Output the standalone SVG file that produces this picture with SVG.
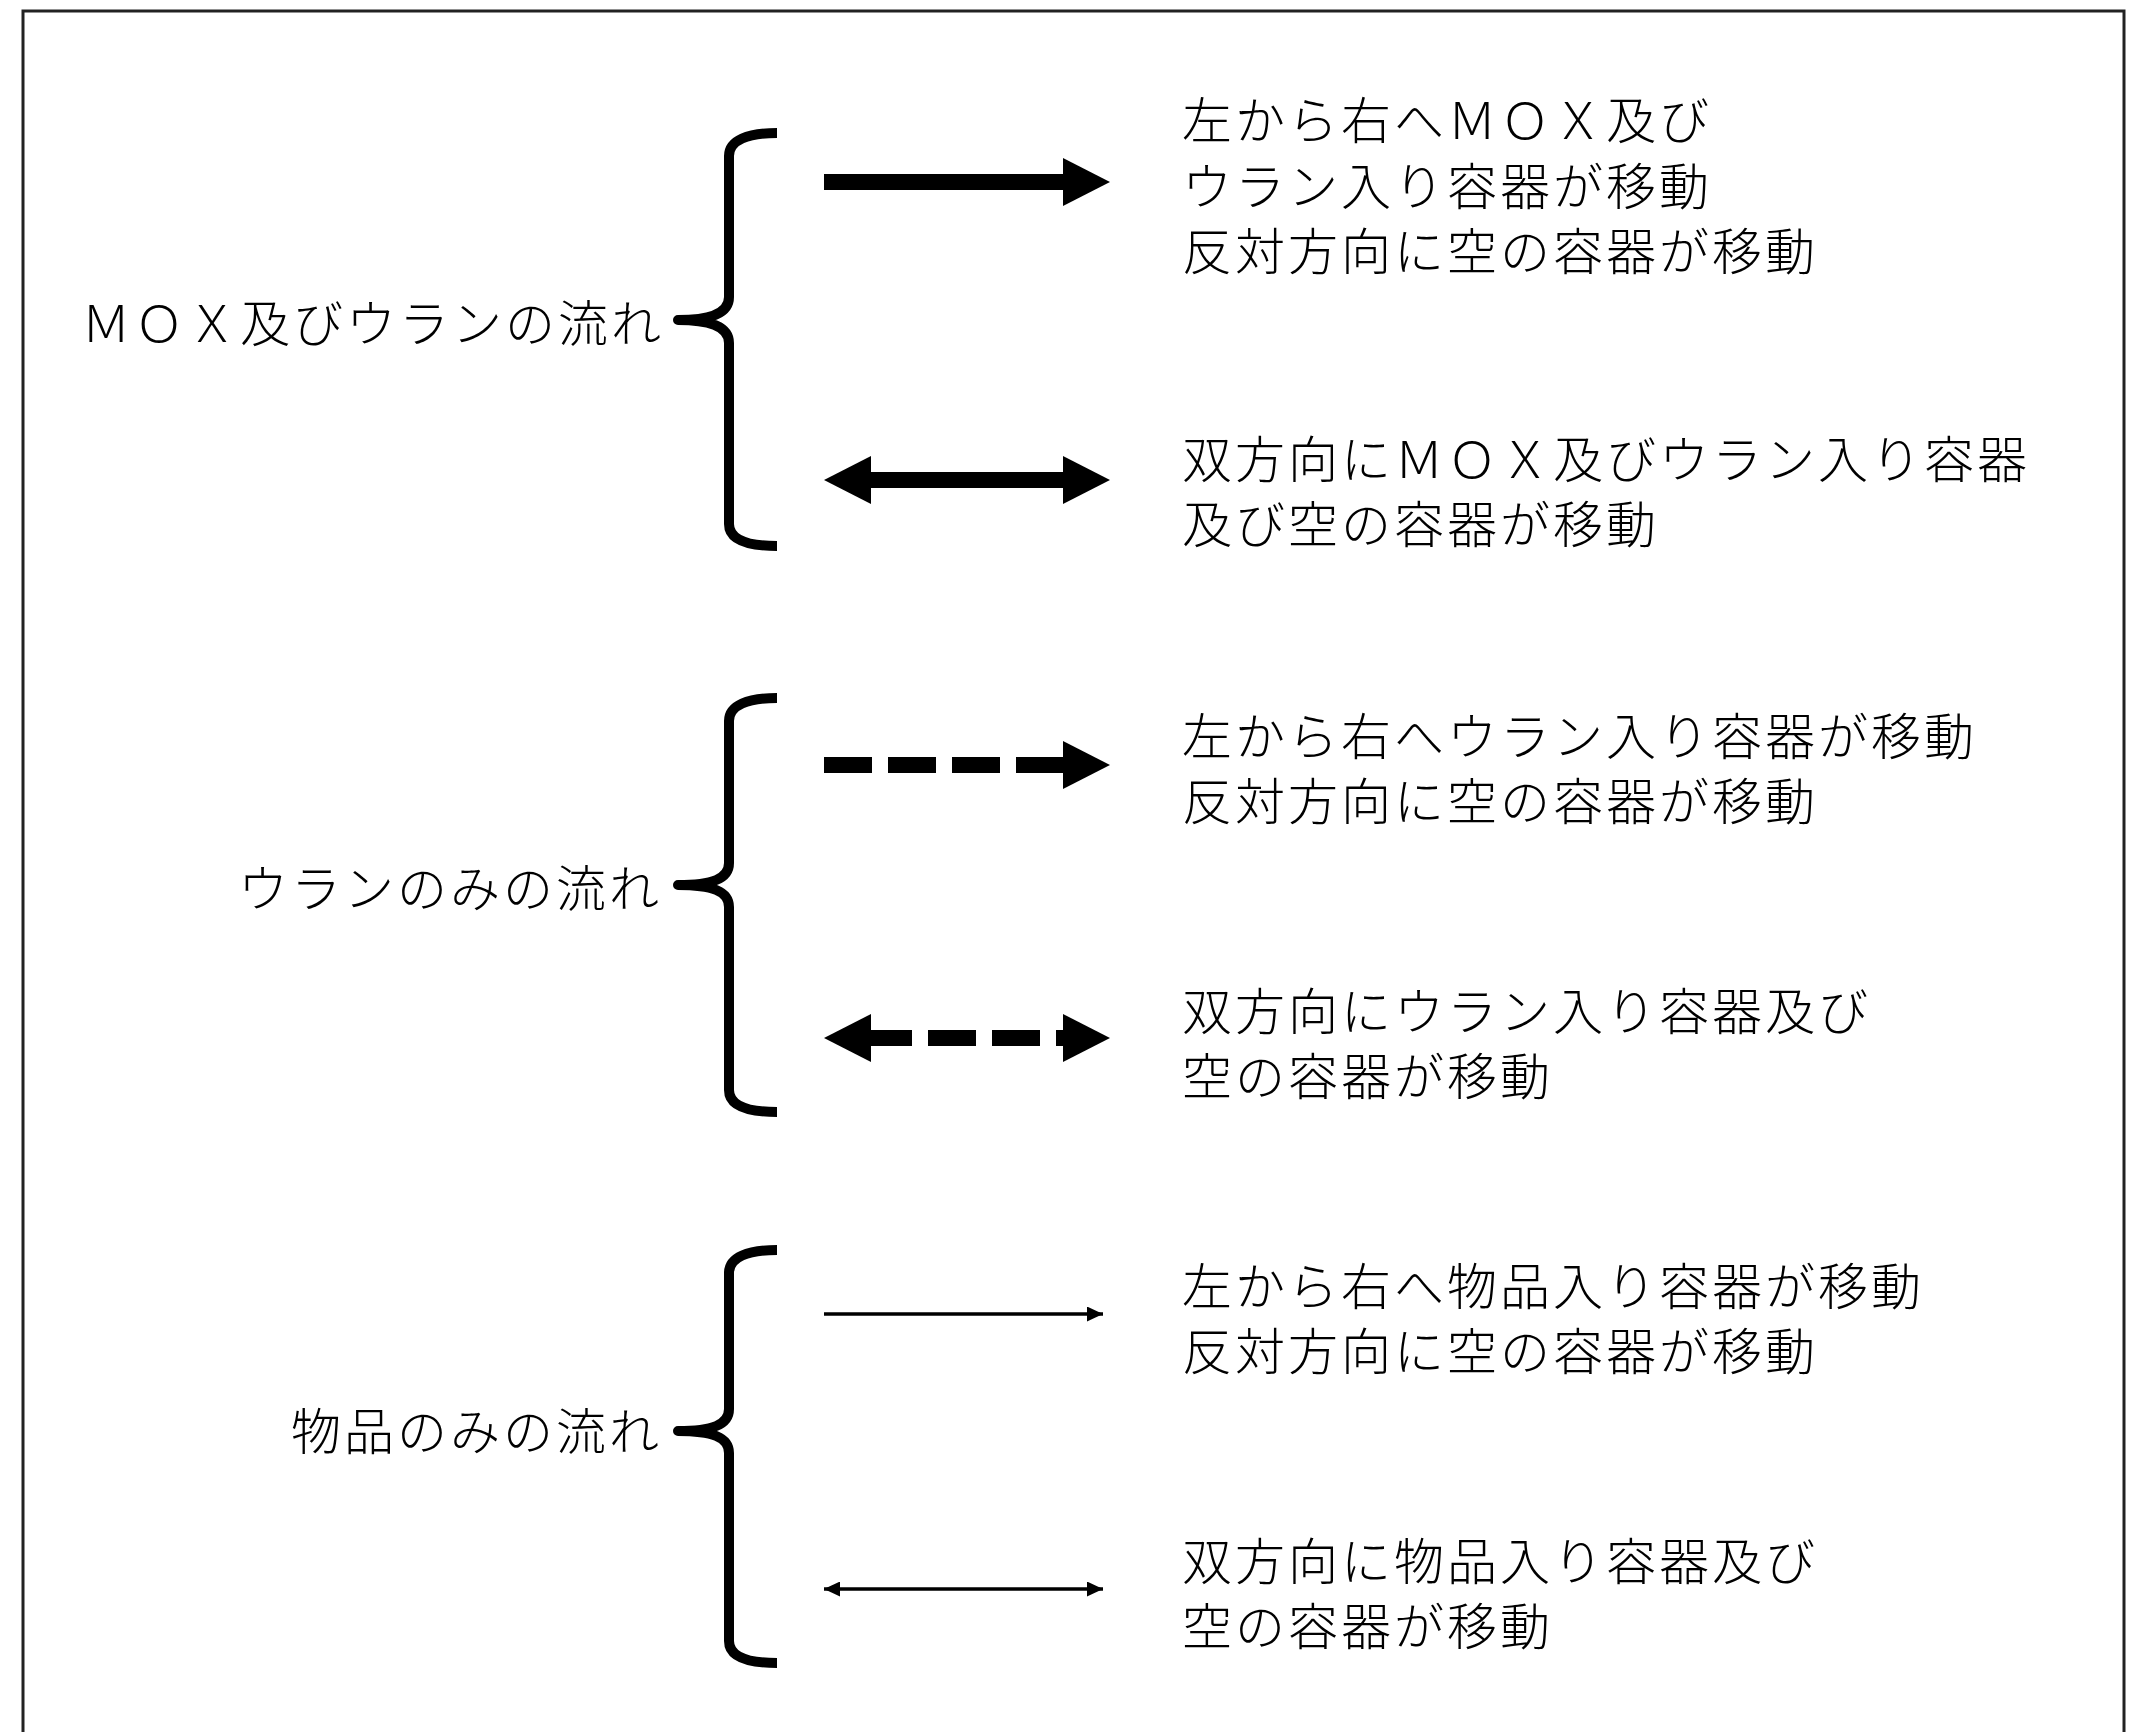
<svg xmlns="http://www.w3.org/2000/svg" width="2135" height="1732" viewBox="0 0 2135 1732">
<style>
  .t { font-family: "Noto Sans CJK JP", sans-serif; font-size: 50px; font-weight: 300; letter-spacing: 3px; fill: #000; }
  .lbl { text-anchor: end; }
  .brace { fill: none; stroke: #000; stroke-width: 10; stroke-linecap: butt; stroke-linejoin: round; }
  .thin { stroke: #000; stroke-width: 3.5; fill: none; }
  .solid { fill: #000; }
</style>
<defs>
  <marker id="ah" viewBox="0 0 16 15" refX="16" refY="7.5" markerWidth="16" markerHeight="15" markerUnits="userSpaceOnUse" orient="auto-start-reverse">
    <path d="M0,0 L16,7.5 L0,15 Z" fill="#000"/>
  </marker>
</defs>
<rect width="2135" height="1732" fill="#fff"/>
<rect x="23" y="11" width="2101" height="1740" fill="none" stroke="#222" stroke-width="3"/>

<g id="group-mox">
  <path class="brace" d="M777,133 C748,133 729,140 729,156 L729,297 C729,313 712,320 678,320 C712,320 729,327 729,343 L729,524 C729,540 748,546 777,546"/>
  <text class="t lbl" x="664" y="342">ＭＯＸ及びウランの流れ</text>
</g>
<g id="group-uranium">
  <path class="brace" d="M777,698 C748,698 729,705 729,721 L729,863 C729,879 712,885 678,885 C712,885 729,891 729,907 L729,1090 C729,1106 748,1112 777,1112"/>
  <text class="t lbl" x="662" y="907">ウランのみの流れ</text>
</g>
<g id="group-goods">
  <path class="brace" d="M777,1250 C748,1250 729,1257 729,1273 L729,1409 C729,1425 712,1431 678,1431 C712,1431 729,1437 729,1453 L729,1641 C729,1657 748,1663 777,1663"/>
  <text class="t lbl" x="662" y="1450">物品のみの流れ</text>
</g>

<g id="connectors">
  <g id="arrow-mox-oneway">
    <rect class="solid" x="824" y="174" width="240" height="16"/>
    <polygon class="solid" points="1063,158 1110,182 1063,206"/>
  </g>
  <g id="arrow-mox-both">
    <rect class="solid" x="870" y="472" width="194" height="16"/>
    <polygon class="solid" points="871,456 824,480 871,504"/>
    <polygon class="solid" points="1063,456 1110,480 1063,504"/>
  </g>
  <g id="arrow-u-oneway">
    <rect class="solid" x="824" y="757" width="48" height="16"/>
    <rect class="solid" x="888" y="757" width="48" height="16"/>
    <rect class="solid" x="952" y="757" width="48" height="16"/>
    <rect class="solid" x="1016" y="757" width="48" height="16"/>
    <polygon class="solid" points="1063,741 1110,765 1063,789"/>
  </g>
  <g id="arrow-u-both">
    <polygon class="solid" points="871,1014 824,1038 871,1062"/>
    <rect class="solid" x="870" y="1030" width="42" height="16"/>
    <rect class="solid" x="928" y="1030" width="48" height="16"/>
    <rect class="solid" x="992" y="1030" width="48" height="16"/>
    <rect class="solid" x="1056" y="1030" width="8" height="16"/>
    <polygon class="solid" points="1063,1014 1110,1038 1063,1062"/>
  </g>
  <line id="arrow-g-oneway" class="thin" x1="824" y1="1314" x2="1103" y2="1314" marker-end="url(#ah)"/>
  <line id="arrow-g-both" class="thin" x1="824" y1="1589" x2="1103" y2="1589" marker-start="url(#ah)" marker-end="url(#ah)"/>
</g>

<g id="desc-mox-oneway">
  <text class="t" x="1182" y="139">左から右へＭＯＸ及び</text>
  <text class="t" x="1182" y="205">ウラン入り容器が移動</text>
  <text class="t" x="1182" y="270">反対方向に空の容器が移動</text>
</g>
<g id="desc-mox-both">
  <text class="t" x="1182" y="478">双方向にＭＯＸ及びウラン入り容器</text>
  <text class="t" x="1182" y="543">及び空の容器が移動</text>
</g>
<g id="desc-u-oneway">
  <text class="t" x="1182" y="755">左から右へウラン入り容器が移動</text>
  <text class="t" x="1182" y="820">反対方向に空の容器が移動</text>
</g>
<g id="desc-u-both">
  <text class="t" x="1182" y="1030">双方向にウラン入り容器及び</text>
  <text class="t" x="1182" y="1095">空の容器が移動</text>
</g>
<g id="desc-g-oneway">
  <text class="t" x="1182" y="1305">左から右へ物品入り容器が移動</text>
  <text class="t" x="1182" y="1370">反対方向に空の容器が移動</text>
</g>
<g id="desc-g-both">
  <text class="t" x="1182" y="1580">双方向に物品入り容器及び</text>
  <text class="t" x="1182" y="1645">空の容器が移動</text>
</g>
</svg>
